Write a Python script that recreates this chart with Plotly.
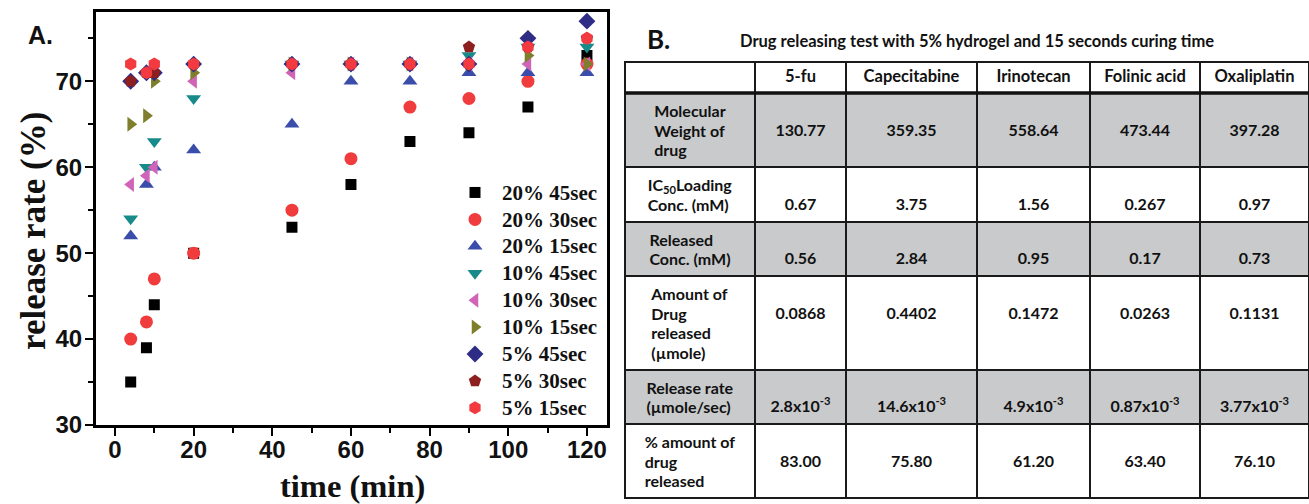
import plotly.graph_objects as go

# ---------------- data (panel A) ----------------
time_min = [4, 8, 10, 20, 45, 60, 75, 90, 105, 120]
series_names = ["20% 45sec", "20% 30sec", "20% 15sec", "10% 45sec", "10% 30sec",
                "10% 15sec", "5% 45sec", "5% 30sec", "5% 15sec"]
s20_45 = [35, 39, 44, 50, 53, 58, 63, 64, 67, 73]
s20_30 = [40, 42, 47, 50, 55, 61, 67, 68, 70, 72]
s20_15 = [52, 58, 60, 62, 65, 70, 70, 71, 71, 71]
s10_45 = [54, 60, 63, 68, 72, 72, 72, 73, 74, 74]
s10_30 = [58, 59, 60, 70, 71, 72, 72, 72, 72, 72]
s10_15 = [65, 66, 70, 71, 72, 72, 72, 72, 73, 72]
s5_45 = [70, 71, 71, 72, 72, 72, 72, 72, 75, 77]
s5_30 = [70, 71, 71, 72, 72, 72, 72, 74, 74, 75]
s5_15 = [72, 71, 72, 72, 72, 72, 72, 72, 74, 75]
series_values = [s20_45, s20_30, s20_15, s10_45, s10_30, s10_15, s5_45, s5_30, s5_15]
x_ticks = [0, 20, 40, 60, 80, 100, 120]
y_ticks = [30, 40, 50, 60, 70]

# ---------------- data (panel B) ----------------
drugs = ["5-fu", "Capecitabine", "Irinotecan", "Folinic acid", "Oxaliplatin"]
row_labels = [["Molecular", "Weight of", "drug"],
              ["IC<sub>50</sub>Loading", "Conc. (mM)"],
              ["Released", "Conc. (mM)"],
              ["Amount of", "Drug", "released", "(\u00b5mole)"],
              ["Release rate", "(\u00b5mole/sec)"],
              ["% amount of", "drug", "released"]]
mol_weight = ["130.77", "359.35", "558.64", "473.44", "397.28"]
ic50_loading = ["0.67", "3.75", "1.56", "0.267", "0.97"]
released_conc = ["0.56", "2.84", "0.95", "0.17", "0.73"]
amount_released = ["0.0868", "0.4402", "0.1472", "0.0263", "0.1131"]
release_rate = ["2.8x10<sup>-3</sup>", "14.6x10<sup>-3</sup>", "4.9x10<sup>-3</sup>",
                "0.87x10<sup>-3</sup>", "3.77x10<sup>-3</sup>"]
pct_released = ["83.00", "75.80", "61.20", "63.40", "76.10"]
table_title = "Drug releasing test with 5% hydrogel and 15 seconds curing time"

# ---------------- styles ----------------
symbols = ["square", "circle", "triangle-up", "triangle-down", "triangle-left",
           "triangle-right", "diamond", "pentagon", "hexagon"]
colors = ["#000000", "#F03C3C", "#3A4DAA", "#178A8A", "#D065B8",
          "#7E7E2C", "#2E2C85", "#8E1F1F", "#F23A40"]
sizes = [11, 13, 13, 13, 13, 13, 13, 13, 13]

W, H = 1309, 504
fig = go.Figure()

LEG_SPAN = '<span style="font-size:21px">{}</span>'
for name, vals, sym, col, sz in zip(series_names, series_values, symbols, colors, sizes):
    fig.add_trace(go.Scatter(
        x=time_min, y=vals, mode="markers", name=LEG_SPAN.format(name),
        marker=dict(symbol=sym, color=col, size=sz, line=dict(width=0)),
        xaxis="x", yaxis="y"))

# table
CELL_SPAN = '<span style="font-size:16px">{}</span>'
NB = "\u00a0"
value_line = [1, 1, 1, 1, 1, 1]   # line of each row on which the values sit
rows = [mol_weight, ic50_loading, released_conc, amount_released, release_rate, pct_released]
label_col = ["<br>".join(CELL_SPAN.format(s) for s in lines) for lines in row_labels]
value_cols = []
for j in range(len(drugs)):
    col = []
    for i, r in enumerate(rows):
        parts = [NB] * value_line[i] + [CELL_SPAN.format(r[j])]
        col.append("<br>".join(parts))
    value_cols.append(col)

gray = "#C9CACC"
row_fill = [gray, "white", gray, "white", gray, "white"]
table_top = 62
header_h = 31
fig.add_trace(go.Table(
    domain=dict(x=[625 / W, 1.0], y=[0, 1 - table_top / H]),
    columnwidth=[130, 91, 131, 113, 110, 109],
    header=dict(values=[NB] + drugs,
                fill_color="white",
                line=dict(color="#1a1a1a", width=2),
                align="center", height=header_h,
                font=dict(family="Lato", size=16.5, color="#111", weight="bold")),
    cells=dict(values=[label_col] + value_cols,
               fill_color=[row_fill] * 6,
               line=dict(color="#1a1a1a", width=2),
               align="center", height=20,
               font=dict(family="Lato", size=15, color="#111", weight="bold")),
))

tickfont = dict(family="Liberation Sans", size=24, color="#111", weight="bold")
axis_common = dict(ticks="outside", ticklen=8, tickwidth=2, tickcolor="black",
                   showline=True, linewidth=2.5, linecolor="black", mirror=True,
                   showgrid=False, zeroline=False, tickfont=tickfont, automargin=False)
fig.update_layout(
    template="none",
    width=W, height=H,
    margin=dict(l=0, r=0, t=0, b=0, autoexpand=False),
    paper_bgcolor="white", plot_bgcolor="white",
    xaxis=dict(domain=[95.7 / W, 607 / W], range=[-4.9, 125.1], tickvals=x_ticks,
               minor=dict(ticks="outside", ticklen=5, tickwidth=2, dtick=10, tick0=0,
                          tickcolor="black"),
               ticklabelstandoff=-7, **axis_common),
    yaxis=dict(domain=[1 - 425 / H, 1 - 11.7 / H], range=[30, 78.1], tickvals=y_ticks,
               minor=dict(ticks="outside", ticklen=5, tickwidth=2, dtick=5, tick0=30,
                          tickcolor="black"),
               ticklabelstandoff=-2, **axis_common),
    showlegend=True,
    legend=dict(x=448 / W, xanchor="left", y=1 - 174 / H, yanchor="top",
                itemwidth=44,
                bgcolor="rgba(0,0,0,0)", borderwidth=0,
                font=dict(family="Liberation Serif", size=18.4, color="#111", weight="bold")),
    shapes=[dict(type="line", xref="paper", yref="paper",
                 x0=625 / W, x1=1.0,
                 y0=1 - (table_top + header_h) / H, y1=1 - (table_top + header_h) / H,
                 line=dict(color="#111", width=3.5))],
)

annotations = [
    dict(text="release rate (%)", x=34 / W, y=1 - 231 / H, textangle=-90,
         font=dict(family="Liberation Serif", size=35, color="#111", weight="bold")),
    dict(text="time (min)", x=352 / W, y=1 - 486 / H,
         font=dict(family="Liberation Serif", size=32.5, color="#111", weight="bold")),
    dict(text="A.", x=40 / W, y=1 - 35 / H,
         font=dict(family="Liberation Sans", size=25, color="#111", weight="bold")),
    dict(text="B.", x=658 / W, y=1 - 39 / H,
         font=dict(family="Lato", size=26, color="#111", weight="bold")),
    dict(text=table_title, x=977 / W, y=1 - 41 / H,
         font=dict(family="Lato", size=16.5, color="#111", weight="bold")),
]
for a in annotations:
    a.update(xref="paper", yref="paper", showarrow=False, xanchor="center", yanchor="middle")
fig.update_layout(annotations=annotations)

fig.write_html("out.html",
               config={"displayModeBar": False},
               post_script="document.body.style.margin='0px';"
                           "document.body.style.overflow='hidden';")
